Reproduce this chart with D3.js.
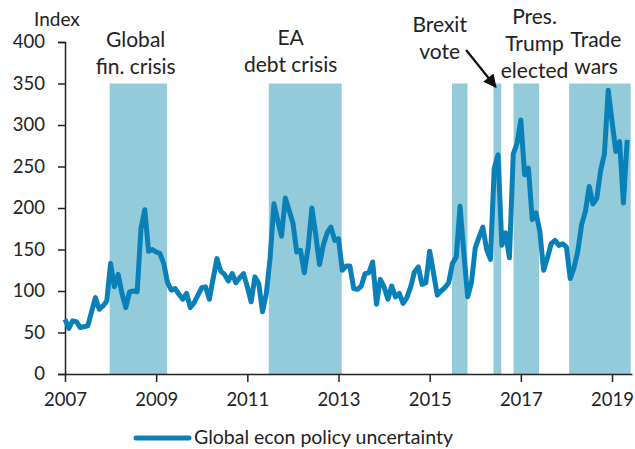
<!DOCTYPE html>
<html>
<head>
<meta charset="utf-8">
<script src="https://cdn.jsdelivr.net/npm/d3@7"></script>
<style>
  body { margin: 0; background: #fff; }
  text { font-family: Lato, "Open Sans", sans-serif; fill: #222; }
</style>
</head>
<body>
<svg id="chart" width="635" height="449"></svg>
<script>
// Data: monthly global economic policy uncertainty index, Jan 2007 onward
const startYear = 2007;
const epuMonthly = [
  66, 55, 64, 63, 56, 57, 58, 75, 92, 78, 82, 88,          // 2007
  133, 105, 120, 97, 80, 99, 100, 99, 175, 198, 148, 150,  // 2008
  147, 145, 133, 110, 101, 103, 96, 90, 97, 80, 86, 95,    // 2009
  104, 105, 90, 115, 139, 124, 120, 112, 121, 110, 116, 121, // 2010
  105, 87, 117, 109, 75, 97, 140, 205, 185, 166, 212, 197, // 2011
  182, 147, 149, 122, 152, 200, 168, 132, 155, 170, 177, 161, // 2012
  163, 125, 130, 130, 103, 102, 106, 121, 122, 135, 84, 114, // 2013
  105, 90, 106, 93, 97, 85, 92, 105, 123, 129, 108, 110,   // 2014
  148, 122, 95, 100, 104, 110, 133, 141, 202, 145, 93, 110, // 2015
  152, 165, 177, 150, 138, 248, 264, 155, 170, 140, 265, 278, // 2016
  306, 240, 248, 186, 194, 172, 125, 140, 157, 161, 155, 157, // 2017
  153, 115, 128, 148, 180, 196, 226, 205, 212, 245, 265, 342, // 2018
  305, 268, 280, 206, 282                                   // 2019
];

// shaded episodes, in decimal years
const bandStarts = [2007.98, 2011.47, 2015.49, 2016.40, 2016.84, 2018.06];
const bandEnds   = [2009.24, 2013.07, 2015.83, 2016.57, 2017.40, 2019.41];
const bandTop = 350;

const xTicks = [2007, 2009, 2011, 2013, 2015, 2017, 2019];
const yTicks = [0, 50, 100, 150, 200, 250, 300, 350, 400];

const labels = [
  { lines: ["Global", "fin. crisis"], x: 2008.55, y: 40 },
  { lines: ["EA", "debt crisis"], x: 2011.95, y: 38 },
  { lines: ["Brexit", "vote"], x: 2015.22, y: 25 },
  { lines: ["Pres.", "Trump", "elected"], x: 2017.3, y: 17 },
  { lines: ["Trade", "wars"], x: 2018.65, y: 40 }
];

const lineColor = "#0a80b8";
const bandColor = "#94cbdb";

const svg = d3.select("#chart");

const x = d3.scaleLinear().domain([2007, 2019]).range([65, 612]);
const y = d3.scaleLinear().domain([0, 400]).range([374, 42]);

// bands
svg.append("g").selectAll("rect")
  .data(bandStarts)
  .join("rect")
  .attr("x", d => x(d))
  .attr("width", (d, i) => x(bandEnds[i]) - x(d))
  .attr("y", y(bandTop))
  .attr("height", y(0) - y(bandTop))
  .attr("fill", bandColor);

// axes
const yAxis = svg.append("g")
  .attr("transform", `translate(${x(2007)},0)`)
  .call(d3.axisLeft(y).tickValues(yTicks).tickSize(7).tickPadding(13));

const xAxis = svg.append("g")
  .attr("transform", `translate(0,${y(0)})`)
  .call(d3.axisBottom(x).tickValues(xTicks).tickFormat(d3.format("d")).tickSize(8).tickPadding(11));

// extend x axis line to the end of the data
xAxis.select(".domain").attr("d", `M${x(2007)},0.5H${x(2019.45)}`);

[xAxis, yAxis].forEach(g => {
  g.select(".domain").attr("stroke", "#222").attr("stroke-width", 1.5);
  g.selectAll(".tick line").attr("stroke", "#222").attr("stroke-width", 1.5);
  g.selectAll("text").style("font-size", "18.5px").attr("fill", "#222");
});

svg.append("text")
  .attr("x", 34).attr("y", 26)
  .style("font-size", "19px")
  .text("Index");

// line
const line = d3.line()
  .x((d, i) => x(startYear + i / 12))
  .y(d => y(d));

svg.append("path")
  .datum(epuMonthly)
  .attr("fill", "none")
  .attr("stroke", lineColor)
  .attr("stroke-width", 5)
  .attr("stroke-linejoin", "round")
  .attr("d", line);

// annotations
labels.forEach(l => {
  const t = svg.append("text")
    .attr("text-anchor", "middle")
    .style("font-size", "21px");
  l.lines.forEach((s, i) => {
    t.append("tspan")
      .attr("x", x(l.x))
      .attr("y", l.y + 7 + i * 27)
      .text(s);
  });
});

// brexit arrow
svg.append("defs").append("marker")
  .attr("id", "arrow")
  .attr("viewBox", "0 0 10 10")
  .attr("refX", 9).attr("refY", 5)
  .attr("markerWidth", 7).attr("markerHeight", 6)
  .attr("markerUnits", "strokeWidth")
  .attr("orient", "auto")
  .append("path")
  .attr("d", "M0,0L10,5L0,10z")
  .attr("fill", "#111");

svg.append("line")
  .attr("x1", x(2015.8)).attr("y1", 50)
  .attr("x2", x(2016.45)).attr("y2", 87)
  .attr("stroke", "#111")
  .attr("stroke-width", 2.2)
  .attr("marker-end", "url(#arrow)");

// legend
const legend = svg.append("g").attr("transform", "translate(134,438)");
legend.append("line")
  .attr("x1", 2).attr("x2", 55)
  .attr("stroke", lineColor)
  .attr("stroke-width", 5)
  .attr("stroke-linecap", "round");
legend.append("text")
  .attr("x", 60).attr("y", 6)
  .style("font-size", "19.5px")
  .text("Global econ policy uncertainty");
</script>
</body>
</html>
